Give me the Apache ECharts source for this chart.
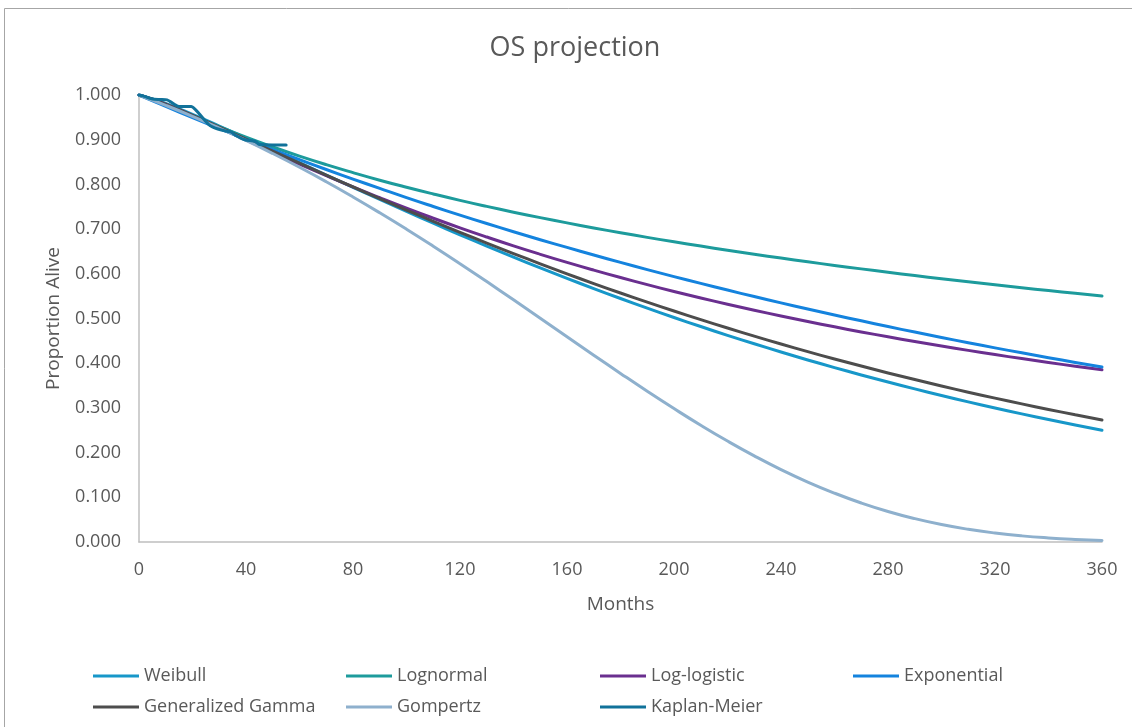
<!DOCTYPE html>
<html>
<head>
<meta charset="utf-8">
<title>OS projection</title>
<script src="https://cdn.jsdelivr.net/npm/echarts@6/dist/echarts.min.js"></script>
<style>
  html, body { margin: 0; padding: 0; background: #ffffff; }
  #chart { width: 1132px; height: 727px; }
</style>
</head>
<body>
<div id="chart"></div>
<script>
// Projection horizon in months
const months = [0,10,20,30,40,50,60,70,80,90,100,110,120,130,140,150,160,170,180,
  190,200,210,220,230,240,250,260,270,280,290,300,310,320,330,340,350,360];

// Proportion alive for each parametric model
const weibull = [1.000,0.9807,0.9565,0.9305,0.9035,0.8761,0.8485,0.8209,0.7934,0.7663,
  0.7395,0.7131,0.6873,0.6620,0.6374,0.6132,0.5898,0.5669,0.5447,0.5232,0.5023,0.4820,
  0.4624,0.4434,0.4251,0.4073,0.3902,0.3737,0.3578,0.3425,0.3277,0.3134,0.2998,0.2866,
  0.2739,0.2618,0.2501];
const lognormal = [1.000,0.9805,0.9544,0.9292,0.9056,0.8837,0.8632,0.8441,0.8263,0.8094,
  0.7936,0.7786,0.7643,0.7508,0.7379,0.7257,0.7139,0.7026,0.6919,0.6815,0.6715,0.6620,
  0.6527,0.6438,0.6352,0.6268,0.6188,0.6110,0.6034,0.5961,0.5890,0.5821,0.5754,0.5689,
  0.5625,0.5563,0.5503];
const logLogistic = [1.000,0.9795,0.9539,0.9268,0.8994,0.8722,0.8455,0.8196,0.7944,0.7702,
  0.7468,0.7244,0.7029,0.6823,0.6625,0.6436,0.6255,0.6082,0.5916,0.5757,0.5605,0.5459,
  0.5319,0.5185,0.5056,0.4933,0.4814,0.4700,0.4591,0.4486,0.4384,0.4287,0.4193,0.4103,
  0.4016,0.3932,0.3851];
const exponential = [1.000,0.9743,0.9492,0.9248,0.9010,0.8779,0.8553,0.8333,0.8119,0.7910,
  0.7704,0.7506,0.7313,0.7125,0.6942,0.6763,0.6590,0.6420,0.6255,0.6094,0.5937,0.5785,
  0.5636,0.5491,0.5350,0.5212,0.5078,0.4948,0.4820,0.4696,0.4576,0.4458,0.4343,0.4232,
  0.4123,0.4017,0.3914];
const genGamma = [1.000,0.9791,0.9543,0.9282,0.9015,0.8745,0.8476,0.8208,0.7944,0.7683,
  0.7427,0.7175,0.6929,0.6688,0.6453,0.6224,0.6000,0.5782,0.5571,0.5367,0.5167,0.4974,
  0.4787,0.4605,0.4430,0.4259,0.4095,0.3936,0.3782,0.3634,0.3490,0.3352,0.3219,0.3090,
  0.2966,0.2846,0.2731];
const gompertz = [1.000,0.9769,0.9523,0.9261,0.8984,0.8691,0.8383,0.8059,0.7719,0.7365,
  0.6998,0.6618,0.6227,0.5826,0.5419,0.5006,0.4593,0.4180,0.3772,0.3372,0.2985,0.2612,
  0.2259,0.1928,0.1621,0.1342,0.1093,0.0873,0.0683,0.0523,0.0390,0.0284,0.0201,0.0137,
  0.0091,0.0058,0.0035];

// Observed Kaplan-Meier estimate
const kmMonths = [0,2,5,8,10.5,12,13.5,15,17,19.5,21,22.5,24.5,26.5,29.5,32,34.5,36,
  39.5,43.5,45,55];
const kmSurvival = [1.000,0.997,0.991,0.990,0.989,0.984,0.978,0.974,0.974,0.974,0.968,
  0.958,0.944,0.932,0.924,0.920,0.917,0.910,0.900,0.896,0.889,0.888];

const seriesNames = ['Weibull','Lognormal','Log-logistic','Exponential',
  'Generalized Gamma','Gompertz','Kaplan-Meier'];
const seriesColors = ['#1797c9','#1d9b9c','#6a2f8f','#1483de','#4d4d4d','#8eb0cd','#11729a'];

// Legend columns (read left to right, top row then bottom row)
const legendColumns = [
  ['Weibull','Generalized Gamma'],
  ['Lognormal','Gompertz'],
  ['Log-logistic','Kaplan-Meier'],
  ['Exponential']
];
const legendLefts = [93, 346, 600, 853];

const xTicks = { min: 0, max: 360, step: 40 };
const yTicks = { min: 0, max: 1, step: 0.1 };

const FONT = 'Open Sans';
const TEXT = '#595959';

function pairs(xs, ys) { return xs.map((x, i) => [x, ys[i]]); }

const curveData = [
  pairs(months, weibull),
  pairs(months, lognormal),
  pairs(months, logLogistic),
  pairs(months, exponential),
  pairs(months, genGamma),
  pairs(months, gompertz),
  pairs(kmMonths, kmSurvival)
];

const chart = echarts.init(document.getElementById('chart'), null, { renderer: 'canvas' });

chart.setOption({
  backgroundColor: '#ffffff',
  animation: false,
  color: seriesColors,
  graphic: [{
    type: 'rect',
    shape: { x: 4.5, y: 8.5, width: 1200, height: 800 },
    style: { fill: 'none', stroke: '#a6a6a6', lineWidth: 1 },
    silent: true
  }],
  title: {
    text: 'OS projection',
    left: 570,
    textAlign: 'center',
    top: 30,
    padding: 5,
    textStyle: { fontFamily: FONT, fontSize: 27, fontWeight: 'normal', color: TEXT }
  },
  grid: { left: 139, right: 30, top: 95, bottom: 185, containLabel: false },
  legend: legendColumns.map((names, i) => ({
    data: names,
    orient: 'vertical',
    left: legendLefts[i],
    top: 666,
    padding: 0,
    itemGap: 11,
    itemWidth: 46,
    itemHeight: 3,
    icon: 'rect',
    textStyle: { fontFamily: FONT, fontSize: 18, color: TEXT, lineHeight: 20 }
  })),
  xAxis: {
    type: 'value',
    min: xTicks.min,
    max: xTicks.max,
    interval: xTicks.step,
    name: 'Months',
    nameLocation: 'middle',
    nameGap: 53,
    nameTextStyle: { fontFamily: FONT, fontSize: 19, color: TEXT },
    axisLine: { show: true, lineStyle: { color: '#bfbfbf', width: 1.5 } },
    axisTick: { show: false },
    splitLine: { show: false },
    axisLabel: { fontFamily: FONT, fontSize: 18, color: TEXT, margin: 19 }
  },
  yAxis: {
    type: 'value',
    min: yTicks.min,
    max: yTicks.max,
    interval: yTicks.step,
    name: 'Proportion Alive',
    nameLocation: 'middle',
    nameGap: 76,
    nameTextStyle: { fontFamily: FONT, fontSize: 19, color: TEXT },
    axisLine: { show: true, lineStyle: { color: '#bfbfbf', width: 1.5 } },
    axisTick: { show: false },
    splitLine: { show: false },
    axisLabel: {
      fontFamily: FONT, fontSize: 18, color: TEXT, margin: 18,
      formatter: v => v.toFixed(3)
    }
  },
  series: seriesNames.map((name, i) => ({
    name: name,
    type: 'line',
    data: curveData[i],
    showSymbol: false,
    symbol: 'none',
    smooth: i === 6 ? 0.2 : true,
    lineStyle: { width: 3, color: seriesColors[i], cap: 'round', join: 'round' },
    itemStyle: { color: seriesColors[i] },
    z: i === 6 ? 5 : 2
  }))
});
</script>
</body>
</html>
